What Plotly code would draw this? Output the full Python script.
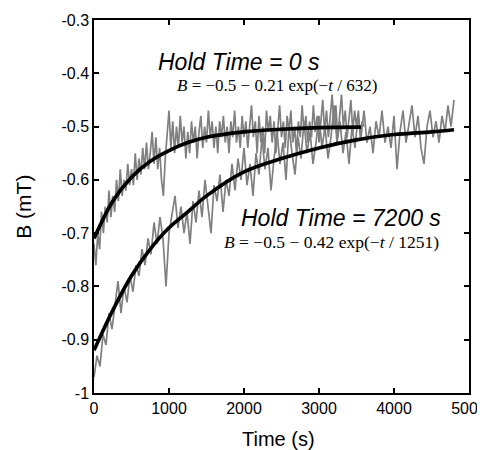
import plotly.graph_objects as go

# hold time = 0 s, measured signal (every 25 s)
t0 = list(range(0, 3601, 25))
b0 = [-0.72, -0.76, -0.70, -0.73,
      -0.66, -0.70, -0.65, -0.68,
      -0.62, -0.67, -0.63, -0.66,
      -0.60, -0.64, -0.58, -0.63,
      -0.60, -0.62, -0.57, -0.61,
      -0.58, -0.61, -0.55, -0.60,
      -0.56, -0.59, -0.54, -0.58,
      -0.53, -0.58, -0.55, -0.51,
      -0.57, -0.52, -0.58, -0.54,
      -0.60, -0.63, -0.56, -0.52,
      -0.47, -0.54, -0.49, -0.55,
      -0.50, -0.54, -0.48, -0.53,
      -0.50, -0.56, -0.51, -0.55,
      -0.49, -0.53, -0.50, -0.56,
      -0.51, -0.48, -0.54, -0.50,
      -0.53, -0.47, -0.52, -0.49,
      -0.54, -0.50, -0.55, -0.49,
      -0.52, -0.48, -0.53, -0.50,
      -0.55, -0.49, -0.52, -0.47,
      -0.53, -0.50, -0.54, -0.48,
      -0.52, -0.49, -0.54, -0.50,
      -0.46, -0.52, -0.49, -0.55,
      -0.48, -0.53, -0.50, -0.55,
      -0.47, -0.51, -0.48, -0.53,
      -0.49, -0.55, -0.50, -0.46,
      -0.52, -0.49, -0.54, -0.48,
      -0.51, -0.47, -0.53, -0.50,
      -0.55, -0.49, -0.52, -0.46,
      -0.51, -0.48, -0.53, -0.49,
      -0.52, -0.46, -0.51, -0.48,
      -0.53, -0.49, -0.45, -0.51,
      -0.47, -0.52, -0.48, -0.44,
      -0.50, -0.46, -0.52, -0.48,
      -0.44, -0.50, -0.47, -0.52,
      -0.48, -0.45, -0.51, -0.47,
      -0.50, -0.47, -0.52, -0.49,
      -0.50]

# hold time = 7200 s, measured signal (every 40 s)
t1 = list(range(0, 4801, 40))
b1 = [-0.97, -0.93, -0.95, -0.89, -0.91,
      -0.85, -0.88, -0.84, -0.79, -0.85,
      -0.80, -0.83, -0.78, -0.81, -0.76,
      -0.78, -0.73, -0.76, -0.71, -0.74,
      -0.68, -0.72, -0.67, -0.71, -0.80,
      -0.70, -0.66, -0.63, -0.69, -0.65,
      -0.70, -0.66, -0.72, -0.64, -0.68,
      -0.62, -0.67, -0.60, -0.65, -0.70,
      -0.61, -0.64, -0.59, -0.66, -0.60,
      -0.63, -0.57, -0.62, -0.56, -0.60,
      -0.54, -0.61, -0.57, -0.63, -0.55,
      -0.59, -0.52, -0.58, -0.54, -0.62,
      -0.56, -0.51, -0.57, -0.53, -0.60,
      -0.50, -0.55, -0.59, -0.52, -0.56,
      -0.49, -0.55, -0.51, -0.57, -0.53,
      -0.48, -0.54, -0.50, -0.56, -0.52,
      -0.46, -0.53, -0.49, -0.55, -0.51,
      -0.57, -0.50, -0.54, -0.48, -0.52,
      -0.47, -0.53, -0.50, -0.55, -0.49,
      -0.52, -0.47, -0.53, -0.50, -0.54,
      -0.48, -0.58, -0.51, -0.47, -0.53,
      -0.49, -0.46, -0.52, -0.48, -0.54,
      -0.57, -0.50, -0.47, -0.52, -0.49,
      -0.53, -0.48, -0.51, -0.46, -0.50,
      -0.45]

# fitted curves
fit0_t = [0, 250, 500, 750, 1000, 1250, 1500, 2000, 2500, 3000, 3560]
fit0_b = [-0.71, -0.64, -0.595, -0.565, -0.545, -0.53, -0.52, -0.51, -0.505, -0.502, -0.501]
fit1_t = [0, 250, 500, 750, 1000, 1250, 1500, 2000, 2500, 3000, 3500, 4000, 4500, 4800]
fit1_b = [-0.92, -0.845, -0.78, -0.73, -0.69, -0.66, -0.63, -0.585, -0.56, -0.54,
          -0.525, -0.515, -0.51, -0.506]

yticks = [-1, -0.9, -0.8, -0.7, -0.6, -0.5, -0.4, -0.3]
ylabels = ["-1", "-0.9", "-0.8", "-0.7", "-0.6", "-0.5", "-0.4", "-0.3"]
xticks = [0, 1000, 2000, 3000, 4000, 5000]

fig = go.Figure()
fig.add_trace(go.Scatter(x=t0, y=b0, mode="lines", line=dict(color="#808080", width=1.7)))
fig.add_trace(go.Scatter(x=t1, y=b1, mode="lines", line=dict(color="#808080", width=1.7)))
fig.add_trace(go.Scatter(x=fit0_t, y=fit0_b, mode="lines", line=dict(color="black", width=3.6, shape="spline")))
fig.add_trace(go.Scatter(x=fit1_t, y=fit1_b, mode="lines", line=dict(color="black", width=3.6, shape="spline")))

sans = "Liberation Sans, Arial, sans-serif"
serif = "Liberation Serif, Times New Roman, serif"

fig.add_annotation(x=1933, y=-0.379, text="<i>Hold Time = 0 s</i>", showarrow=False,
                   font=dict(family=sans, size=23, color="black"))
fig.add_annotation(x=2440, y=-0.422, text="<i>B</i> = −0.5 − 0.21 exp(−<i>t</i> / 632)", showarrow=False,
                   font=dict(family=serif, size=17, color="black"))
fig.add_annotation(x=3293, y=-0.672, text="<i>Hold Time = 7200 s</i>", showarrow=False,
                   font=dict(family=sans, size=23, color="black"))
fig.add_annotation(x=3173, y=-0.716, text="<i>B</i> = −0.5 − 0.42 exp(−<i>t</i> / 1251)", showarrow=False,
                   font=dict(family=serif, size=17.5, color="black"))

# axis titles
fig.add_annotation(xref="paper", yref="paper", x=-0.187, y=0.499, text="B (mT)", textangle=-90,
                   xanchor="center", yanchor="middle",
                   showarrow=False, font=dict(family=sans, size=21, color="black"))
fig.add_annotation(xref="paper", yref="paper", x=0.493, y=-0.123, text="Time (s)",
                   xanchor="center", yanchor="middle",
                   showarrow=False, font=dict(family=sans, size=20, color="black"))

axis_style = dict(showline=True, mirror="ticks", linecolor="black", linewidth=1.5,
                  ticks="inside", ticklen=5, tickwidth=1.5, tickcolor="black",
                  showgrid=False, zeroline=False, automargin=False,
                  tickfont=dict(family=sans, size=16, color="black"))

fig.update_xaxes(range=[0, 5000], tickvals=xticks, **axis_style)
fig.update_yaxes(range=[-1, -0.3], tickvals=yticks, ticktext=ylabels, **axis_style)

# page body adds an 8px offset, so margins are shifted to keep the plot box in place
fig.update_layout(width=493, height=450, showlegend=False,
                  margin=dict(l=86, r=32, t=12, b=65),
                  plot_bgcolor="white", paper_bgcolor="white")
fig.write_html("out.html")
